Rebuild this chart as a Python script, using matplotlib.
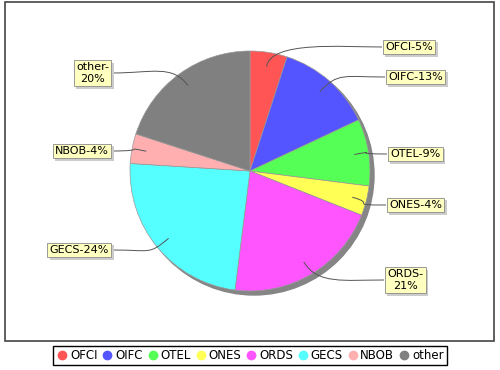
import numpy as np
import matplotlib.pyplot as plt
from matplotlib.patches import Circle, Rectangle, PathPatch
from matplotlib.path import Path
from matplotlib.lines import Line2D
import matplotlib.patheffects as pe

categories = ['OFCI', 'OIFC', 'OTEL', 'ONES', 'ORDS', 'GECS', 'NBOB', 'other']
shares = [5, 13, 9, 4, 21, 24, 4, 20]
slice_labels = ['OFCI-5%', 'OIFC-13%', 'OTEL-9%', 'ONES-4%', 'ORDS-\n21%',
                'GECS-24%', 'NBOB-4%', 'other-\n20%']
colors = ['#ff5555', '#5555ff', '#55ff55', '#ffff55', '#ff55ff', '#55ffff',
          '#ffafaf', '#808080']

# label box anchor (edge x, centre y) in pixels, side of the pie
label_pos = [(382, 47), (385, 77), (387, 154), (386, 205), (384, 280),
             (112, 250), (112, 151), (112, 73)]

W, H = 500, 370
cx, cy, R = 250, 171, 120

fig = plt.figure(figsize=(5, 3.7), dpi=100)
ax = fig.add_axes([0, 0, 1, 1])

# plot frame
ax.add_patch(Rectangle((5, 2), 489, 339, fill=False, ec='#444444', lw=1.2, zorder=0))

# shadow
ax.add_patch(Circle((cx + 4, cy + 4), R, color='#858585', zorder=1))

# y axis points down, so counterclockwise in data == clockwise on screen
ax.pie(shares, colors=colors, startangle=-90, counterclock=True,
       center=(cx, cy), radius=R, frame=True,
       wedgeprops=dict(edgecolor='#999999', linewidth=0.5, zorder=2))

vals = np.array(shares, dtype=float)
cum = np.cumsum(vals) - vals / 2
mid = np.radians(360 * cum / vals.sum())

for a, txt, (lx, ly) in zip(mid, slice_labels, label_pos):
    s, c = np.sin(a), np.cos(a)
    p0 = (cx + 0.88 * R * s, cy - 0.88 * R * c)
    p1 = (cx + 1.1 * R * s, cy - 1.1 * R * c)
    right = lx > cx
    p2 = (lx - 40 if right else lx + 40, ly)
    p3 = (lx, ly)
    path = Path([p0, p1, p2, p3], [Path.MOVETO, Path.CURVE4, Path.CURVE4, Path.CURVE4])
    ax.add_patch(PathPatch(path, fc='none', ec='#555555', lw=0.7, zorder=3))
    t = ax.text(lx + 3 if right else lx - 3, ly, txt,
                ha='left' if right else 'right', va='center',
                multialignment='center', fontsize=8, zorder=5,
                bbox=dict(boxstyle='square,pad=0.22', fc='#ffffc0',
                          ec='#8a8a8a', lw=0.6))
    t.get_bbox_patch().set_path_effects([
        pe.SimplePatchShadow(offset=(2, -2), shadow_rgbFace='#cccccc', alpha=1),
        pe.Normal()])

ax.set_xlim(0, W)
ax.set_ylim(H, 0)
ax.set_aspect('equal')
ax.axis('off')

handles = [Line2D([], [], marker='o', ls='none', color=col, markersize=6)
           for col in colors]
leg = fig.legend(handles, categories, loc='upper center', ncol=8,
                 bbox_to_anchor=(0.5, 1 - 346 / H), fontsize=8.5,
                 fancybox=False, edgecolor='black', framealpha=1,
                 borderpad=0.25, handletextpad=0.15, columnspacing=0.35,
                 handlelength=1.0, borderaxespad=0)
leg.get_frame().set_linewidth(1.0)

fig.savefig('out.png', dpi=100)
